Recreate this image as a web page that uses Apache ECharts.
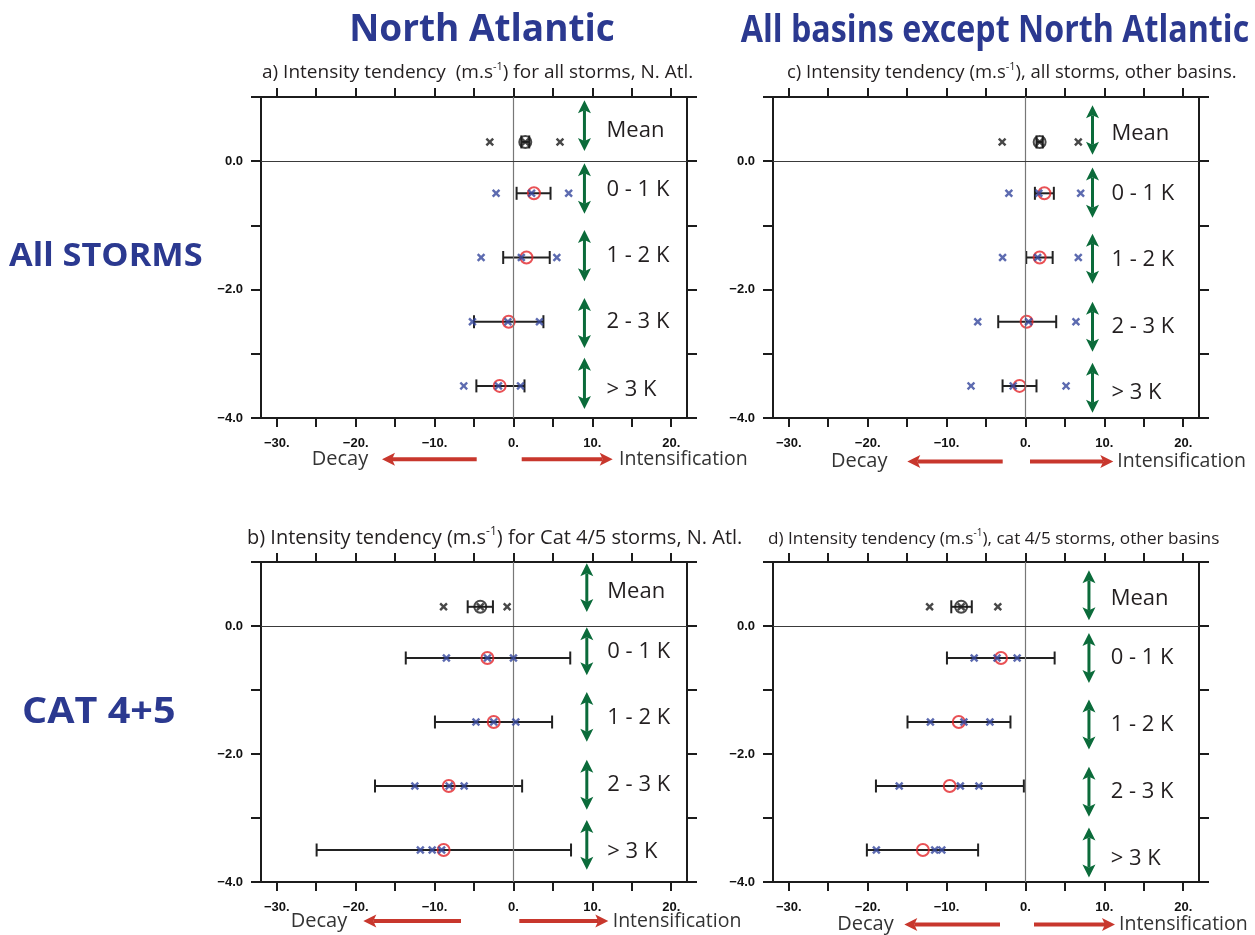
<!DOCTYPE html>
<html>
<head>
<meta charset="utf-8">
<script src="https://cdn.jsdelivr.net/npm/echarts@6/dist/echarts.min.js"></script>
<style>
  html, body { margin: 0; padding: 0; background: #ffffff; }
  #main { width: 1255px; height: 935px; }
</style>
</head>
<body>
<div id="main"></div>
<script>
// ---- Data -------------------------------------------------------------
const rowNames = ['Mean', '0 - 1 K', '1 - 2 K', '2 - 3 K', '> 3 K'];
const rowY = [0.3, -0.5, -1.5, -2.5, -3.5];
const xTickValues = [-30, -25, -20, -15, -10, -5, 0, 5, 10, 15, 20];
const xLabelValues = [-30, -20, -10, 0, 10, 20];
const yLabelValues = [0, -2, -4];

// a) all storms, North Atlantic
const centreA = [1.5, 2.6, 1.65, -0.6, -1.75];
const lowA = [1.0, 0.4, -1.3, -5.0, -4.7];
const highA = [2.0, 4.7, 4.6, 3.8, 1.4];
const membersA = [[-3.0, 1.5, 5.9], [-2.2, 2.3, 7.0], [-4.1, 1.0, 5.5], [-5.2, -0.7, 3.3], [-6.3, -1.9, 0.9]];

// b) Cat 4/5 storms, North Atlantic
const centreB = [-4.2, -3.3, -2.5, -8.2, -8.85];
const lowB = [-5.8, -13.65, -9.95, -17.55, -24.95];
const highB = [-2.6, 7.2, 4.9, 1.1, 7.3];
const membersB = [[-8.86, -4.2, -0.8], [-8.5, -3.3, 0.0], [-4.75, -2.5, 0.3], [-12.5, -8.15, -6.25], [-11.8, -10.3, -9.1]];

// c) all storms, other basins
const centreC = [1.8, 2.4, 1.8, 0.15, -0.75];
const lowC = [1.4, 1.2, 0.1, -3.45, -2.9];
const highC = [2.2, 3.6, 3.45, 3.9, 1.4];
const membersC = [[-2.95, 1.8, 6.7], [-2.1, 1.7, 7.0], [-2.9, 1.55, 6.7], [-6.05, 0.4, 6.4], [-6.9, -1.55, 5.15]];

// d) cat 4/5 storms, other basins
const centreD = [-8.15, -3.1, -8.45, -9.6, -13.0];
const lowD = [-9.4, -9.95, -14.95, -18.95, -20.1];
const highD = [-6.8, 3.7, -1.9, -0.2, -6.0];
const membersD = [[-12.15, -8.15, -3.5], [-6.5, -3.6, -1.05], [-12.05, -7.8, -4.5], [-16.0, -8.25, -5.9], [-18.9, -11.5, -10.6]];

// Green double arrows beside each row: [top, bottom] in y units
const spansA = [[0.95, 0.16], [-0.03, -0.82], [-1.07, -1.87], [-2.13, -2.91], [-3.06, -3.86]];
const spansB = [[0.98, 0.22], [-0.02, -0.77], [-1.03, -1.81], [-2.09, -2.87], [-3.03, -3.81]];
const spansC = [[0.87, 0.10], [-0.10, -0.88], [-1.13, -1.91], [-2.19, -2.97], [-3.14, -3.92]];
const spansD = [[0.87, 0.09], [-0.11, -0.89], [-1.15, -1.93], [-2.20, -2.98], [-3.15, -3.93]];

// Row-name anchor heights
const nameYA = [0.48, -0.44, -1.48, -2.50, -3.56];
const nameYB = [0.53, -0.40, -1.44, -2.48, -3.53];
const nameYC = [0.43, -0.50, -1.54, -2.58, -3.61];
const nameYD = [0.42, -0.50, -1.55, -2.59, -3.64];

// ---- Styling ----------------------------------------------------------
const TEXT_FONT = '"Open Sans", "Noto Sans", sans-serif';
const AXIS_FONT = '"Liberation Sans", Arial, sans-serif';
const BLUE_TITLE = '#2b3990';
const RED = '#e3262b';
const MEMBER_BLUE = '#34469c';
const INK = '#1c1c1c';
const GREEN = '#0b6b3a';
const ARROW_RED = '#c8372d';
const CROSS = 'path://M0,2L2,0L5,3L8,0L10,2L7,5L10,8L8,10L5,7L2,10L0,8L3,5Z';

const panels = [
  { left: 261, top: 97, height: 321, centre: centreA, low: lowA, high: highA, members: membersA, arrowX: 9.0, spans: spansA, nameX: 11.8, nameY: nameYA },
  { left: 261, top: 562, height: 320, centre: centreB, low: lowB, high: highB, members: membersB, arrowX: 9.3, spans: spansB, nameX: 11.9, nameY: nameYB },
  { left: 773, top: 97, height: 321, centre: centreC, low: lowC, high: highC, members: membersC, arrowX: 8.5, spans: spansC, nameX: 10.9, nameY: nameYC },
  { left: 773, top: 562, height: 320, centre: centreD, low: lowD, high: highD, members: membersD, arrowX: 8.05, spans: spansD, nameX: 10.8, nameY: nameYD }
];

const minusFmt = v => (v < 0 ? '\u2212' : '') + Math.abs(v);

const grids = [], xAxes = [], yAxes = [], series = [];

panels.forEach((p, i) => {
  grids.push({ left: p.left, top: p.top, width: 426, height: p.height, containLabel: false });

  const axisLine = { show: true, onZero: false, lineStyle: { color: INK, width: 2 } };
  const xBase = {
    type: 'value', gridIndex: i, min: -32, max: 22,
    axisLine, splitLine: { show: false },
    axisTick: { show: true, inside: false, length: 9, customValues: xTickValues, lineStyle: { color: INK, width: 2 } }
  };
  xAxes.push(Object.assign({}, xBase, {
    position: 'bottom',
    axisLabel: { show: true, customValues: xLabelValues, formatter: v => minusFmt(v) + '.', fontFamily: AXIS_FONT, fontSize: 13, fontWeight: 'bold', color: '#111', margin: 19 }
  }));
  xAxes.push(Object.assign({}, xBase, { position: 'top', axisLabel: { show: false } }));

  const yBase = {
    type: 'value', gridIndex: i, min: -4, max: 1, interval: 1,
    axisLine, splitLine: { show: false },
    axisTick: { show: true, inside: false, length: 10, lineStyle: { color: INK, width: 2 } }
  };
  yAxes.push(Object.assign({}, yBase, {
    position: 'left',
    axisLabel: {
      show: true, fontFamily: AXIS_FONT, fontSize: 13, fontWeight: 'bold', color: '#111', margin: 18,
      formatter: v => (yLabelValues.indexOf(v) >= 0 ? minusFmt(v) + '.0' : '')
    }
  }));
  yAxes.push(Object.assign({}, yBase, { position: 'right', axisLabel: { show: false } }));

  const xi = i * 2, yi = i * 2;

  // error bars with end caps
  series.push({
    type: 'custom', xAxisIndex: xi, yAxisIndex: yi, z: 3, silent: true,
    data: rowY.map((y, k) => [p.low[k], p.high[k], y]),
    encode: { x: [0, 1], y: 2 },
    renderItem: (params, api) => {
      const y = api.value(2);
      const a = api.coord([api.value(0), y]);
      const b = api.coord([api.value(1), y]);
      const h = 6.5;
      const st = { stroke: '#222', lineWidth: 2 };
      return {
        type: 'group', children: [
          { type: 'line', shape: { x1: a[0], y1: a[1], x2: b[0], y2: b[1] }, style: st },
          { type: 'line', shape: { x1: a[0], y1: a[1] - h, x2: a[0], y2: a[1] + h }, style: st },
          { type: 'line', shape: { x1: b[0], y1: b[1] - h, x2: b[0], y2: b[1] + h }, style: st }
        ]
      };
    }
  });

  // means as hollow circles (black for the overall mean row), plus zero lines
  series.push({
    type: 'scatter', xAxisIndex: xi, yAxisIndex: yi, z: 4, silent: true,
    symbol: 'circle', symbolSize: 12,
    data: rowY.map((y, k) => ({
      value: [p.centre[k], y],
      itemStyle: { color: 'rgba(0,0,0,0)', borderColor: k === 0 ? '#1a1a1a' : RED, borderWidth: 2 }
    })),
    markLine: {
      silent: true, symbol: ['none', 'none'], label: { show: false }, animation: false,
      data: [
        { xAxis: 0, lineStyle: { color: '#777777', width: 1.2, type: 'solid' } },
        { yAxis: 0, lineStyle: { color: '#3a3a3a', width: 1.2, type: 'solid' } }
      ]
    }
  });

  // individual members as crosses
  const crossData = [];
  p.members.forEach((row, k) => row.forEach(v => crossData.push({
    value: [v, rowY[k]], itemStyle: { color: k === 0 ? '#1a1a1a' : MEMBER_BLUE }
  })));
  series.push({
    type: 'scatter', xAxisIndex: xi, yAxisIndex: yi, z: 5, silent: true,
    symbol: CROSS, symbolSize: 8.5, data: crossData
  });

  // green double-headed arrows
  series.push({
    type: 'custom', xAxisIndex: xi, yAxisIndex: yi, z: 3, silent: true,
    data: p.spans.map(s => [p.arrowX, s[0], s[1]]),
    encode: { x: 0, y: [1, 2] },
    renderItem: (params, api) => {
      const x = api.value(0);
      const t = api.coord([x, api.value(1)]);
      const b = api.coord([x, api.value(2)]);
      const hl = 13, hw = 6.5, notch = 3;
      return {
        type: 'group', children: [
          { type: 'line', shape: { x1: t[0], y1: t[1] + hl - notch, x2: b[0], y2: b[1] - hl + notch }, style: { stroke: GREEN, lineWidth: 3 } },
          { type: 'polygon', shape: { points: [[t[0], t[1]], [t[0] + hw, t[1] + hl], [t[0], t[1] + hl - notch], [t[0] - hw, t[1] + hl]] }, style: { fill: GREEN } },
          { type: 'polygon', shape: { points: [[b[0], b[1]], [b[0] + hw, b[1] - hl], [b[0], b[1] - hl + notch], [b[0] - hw, b[1] - hl]] }, style: { fill: GREEN } }
        ]
      };
    }
  });

  // row names
  series.push({
    type: 'custom', xAxisIndex: xi, yAxisIndex: yi, z: 3, silent: true,
    data: p.nameY.map((y, k) => [p.nameX, y, k]),
    encode: { x: 0, y: 1 },
    renderItem: (params, api) => {
      const pt = api.coord([api.value(0), api.value(1)]);
      return {
        type: 'text', x: pt[0], y: pt[1],
        style: { text: rowNames[api.value(2)], fontFamily: TEXT_FONT, fontSize: 22, fill: '#231f20', align: 'left', verticalAlign: 'middle' }
      };
    }
  });
});

// ---- Titles, subtitles and direction arrows -----------------------------
function hArrow(tail, tip, y) {
  const dir = tip > tail ? 1 : -1;
  const hl = 13, hw = 6.5, notch = 3;
  return {
    type: 'group', children: [
      { type: 'line', shape: { x1: tail, y1: y, x2: tip - dir * (hl - notch), y2: y }, style: { stroke: ARROW_RED, lineWidth: 4 } },
      { type: 'polygon', shape: { points: [[tip, y], [tip - dir * hl, y - hw], [tip - dir * (hl - notch), y], [tip - dir * hl, y + hw]] }, style: { fill: ARROW_RED } }
    ]
  };
}
function label(text, x, y, size, opts, sx) {
  return {
    type: 'text', x: x, y: y, scaleX: sx || 1,
    style: Object.assign({ text: text, fontFamily: TEXT_FONT, fontSize: size, fill: '#231f20', align: 'left', verticalAlign: 'middle' }, opts || {})
  };
}
function subtitle(pre, post, x, y, size) {
  return {
    type: 'text', x: x, y: y,
    style: {
      text: '{t|' + pre + '}{s|-1}{t|' + post + '}',
      align: 'left', verticalAlign: 'middle',
      rich: {
        t: { fontFamily: TEXT_FONT, fontSize: size, fill: '#231f20', lineHeight: size + 5 },
        s: { fontFamily: TEXT_FONT, fontSize: Math.round(size * 0.6), fill: '#231f20', verticalAlign: 'top', lineHeight: Math.round(size * 0.8) }
      }
    }
  };
}
const decayRows = [
  { decay: 311.7, y: 459.3, lt: 476.7, lp: 382, rt: 521.7, rp: 612.7, intens: 619 },
  { decay: 831, y: 461.5, lt: 1002.7, lp: 907.3, rt: 1030, rp: 1113.3, intens: 1117.3 },
  { decay: 290.7, y: 921, lt: 461, lp: 363.3, rt: 519.3, rp: 608.3, intens: 612.7 },
  { decay: 837.3, y: 924.5, lt: 1000, lp: 904.3, rt: 1034, rp: 1115, intens: 1119 }
];

const graphics = [
  label('North Atlantic', 482, 30, 37, { fontWeight: 'bold', fill: BLUE_TITLE, align: 'center' }),
  label('All basins except North Atlantic', 995, 31, 37, { fontWeight: 'bold', fill: BLUE_TITLE, align: 'center' }, 0.87),
  label('All STORMS', 9, 257, 33, { fontWeight: 'bold', fill: BLUE_TITLE }, 1.04),
  label('CAT 4+5', 22, 713, 35, { fontWeight: 'bold', fill: BLUE_TITLE }, 1.13),
  subtitle('a) Intensity tendency  (m.s', ') for all storms, N. Atl.', 262, 73, 19),
  subtitle('b) Intensity tendency (m.s', ') for Cat 4/5 storms, N. Atl.', 247, 538, 20),
  subtitle('c) Intensity tendency (m.s', '), all storms, other basins.', 787, 73, 18.5),
  subtitle('d) Intensity tendency (m.s', '), cat 4/5 storms, other basins', 768, 539, 17.2)
];
decayRows.forEach(d => {
  graphics.push(label('Decay', d.decay, d.y, 20, { fill: '#333333' }));
  graphics.push(label('Intensification', d.intens, d.y, 19.5, { fill: '#333333' }));
  graphics.push(hArrow(d.lt, d.lp, d.y));
  graphics.push(hArrow(d.rt, d.rp, d.y));
});

const chart = echarts.init(document.getElementById('main'), null, { renderer: 'canvas' });
chart.setOption({
  backgroundColor: '#ffffff',
  animation: false,
  grid: grids,
  xAxis: xAxes,
  yAxis: yAxes,
  series: series,
  graphic: graphics
});
</script>
</body>
</html>
